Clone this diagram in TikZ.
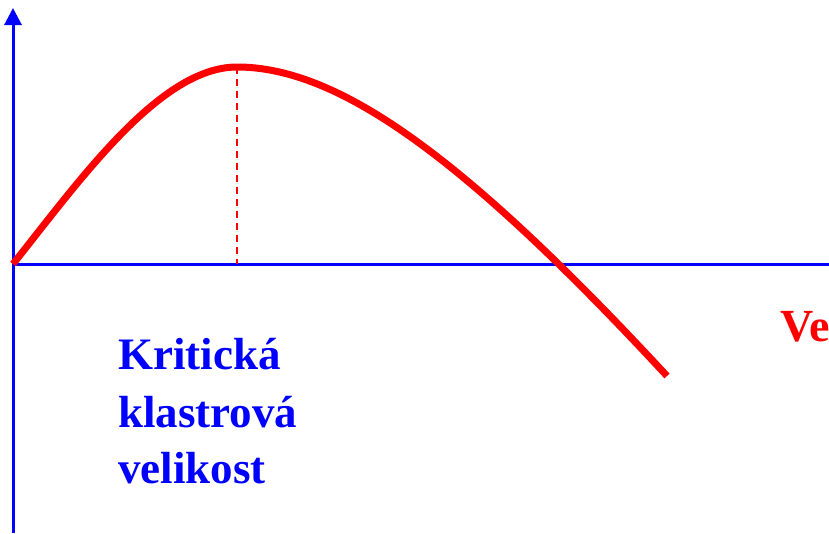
\documentclass[tikz,border=0pt]{standalone}
\usepackage{fontspec}
\setmainfont{Liberation Serif}
\usetikzlibrary{arrows.meta}
\definecolor{pblue}{RGB}{0,0,255}
\definecolor{pred}{RGB}{255,0,0}
\tikzset{
  axis/.style={draw=pblue, line width=3pt},
  curve/.style={draw=pred, line width=7pt},
  guide/.style={draw=pred, line width=2pt, dash pattern=on 7pt off 5pt},
  lbl/.style={anchor=base west, inner sep=0pt, font=\fontsize{45}{56}\selectfont\bfseries},
}
\begin{document}
\begin{tikzpicture}[x=1pt, y=-1pt]
\useasboundingbox (0,0) rectangle (829,533);
\coordinate (o) at (13,264);
\coordinate (ybot) at (13,533);
\coordinate (ytop) at (13,8);
\coordinate (xend) at (829,264);
\coordinate (peak) at (237,67);
\coordinate (peakfoot) at (237,264);
\coordinate (cend) at (667,376);
\draw[axis, -{Triangle[width=17pt,length=17pt]}] (ybot) -- (ytop);
\draw[axis] (o) -- (xend);
\draw[guide] (peak) -- (peakfoot);
\draw[curve] (o) .. controls (80,180) and (160,67) .. (peak)
  .. controls (340,67) and (467,160) .. (cend);
\node[lbl, text=pblue] (k1) at (118,369) {Kritická};
\node[lbl, text=pblue] (k2) at (118,427) {klastrová};
\node[lbl, text=pblue] (k3) at (118,483) {velikost};
\node[lbl, text=pred, font=\fontsize{46}{56}\selectfont\bfseries] (ve) at (780,341) {Ve};
\end{tikzpicture}
\end{document}
